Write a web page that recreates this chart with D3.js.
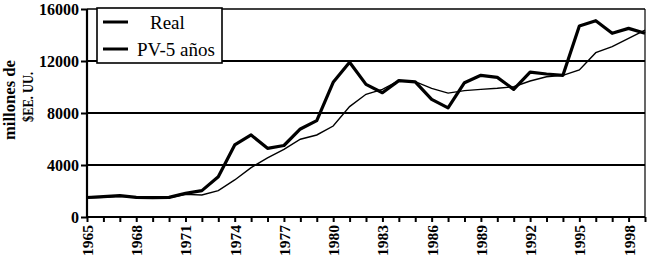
<!DOCTYPE html>
<html>
<head>
<meta charset="utf-8">
<script src="https://cdn.jsdelivr.net/npm/d3@7"></script>
<style>
  body { margin: 0; background: #fff; }
  text { font-family: "Liberation Serif", "Times New Roman", serif; fill: #000; }
</style>
</head>
<body>
<svg id="chart" width="650" height="262"></svg>
<script>
// years on the x axis
const years = d3.range(1965, 2000);

// Real series (millones de $EE. UU.)
const real = [1500, 1560, 1640, 1510, 1490, 1510, 1820, 2030, 3100, 5540,
  6310, 5280, 5500, 6770, 7410, 10360, 11900, 10200, 9560, 10490,
  10390, 9050, 8390, 10330, 10900, 10740, 9820, 11150, 11000, 10900,
  14690, 15100, 14130, 14510, 14130];

// PV-5 años series
const pv5 = [1450, 1520, 1600, 1520, 1480, 1480, 1740, 1690, 2030, 2850,
  3800, 4550, 5200, 5980, 6310, 7000, 8490, 9440, 9820, 10490,
  10410, 9900, 9530, 9720, 9820, 9900, 10020, 10460, 10790, 10900,
  11310, 12640, 13100, 13740, 14380];

const yTicks = [0, 4000, 8000, 12000, 16000];
const xLabels = [1965, 1968, 1971, 1974, 1977, 1980, 1983, 1986, 1989, 1992, 1995, 1998];

const svg = d3.select("svg#chart");
const mLeft = 87, mRight = 645, mTop = 9, mBottom = 217;

const x = d3.scaleLinear().domain([1965, 1999]).range([mLeft, mRight]);
const y = d3.scaleLinear().domain([0, 16000]).range([mBottom, mTop]);

// horizontal grid lines
svg.append("g").selectAll("line.grid")
  .data(yTicks.filter(d => d > 0))
  .enter().append("line")
  .attr("class", "grid")
  .attr("x1", mLeft).attr("x2", mRight)
  .attr("y1", d => y(d)).attr("y2", d => y(d))
  .attr("stroke", "#000")
  .attr("stroke-width", d => d === 16000 ? 1.7 : 2.2);

// right border
svg.append("line")
  .attr("x1", mRight).attr("x2", mRight)
  .attr("y1", mTop).attr("y2", mBottom)
  .attr("stroke", "#000").attr("stroke-width", 1.2);

// y axis
const yAxis = d3.axisLeft(y).tickValues(yTicks).tickSize(6).tickPadding(2).tickFormat(d3.format("d"));
const gy = svg.append("g").attr("transform", "translate(" + mLeft + ",0)").call(yAxis);
gy.select(".domain").remove();
gy.selectAll("line").attr("stroke-width", 2);
gy.selectAll("text")
  .attr("font-family", "Liberation Serif")
  .attr("font-size", 16)
  .attr("font-weight", "bold")
  .attr("dy", "0.35em");

// x axis
const xAxis = d3.axisBottom(x).tickValues(years).tickSize(5)
  .tickFormat(d => xLabels.includes(d) ? String(d) : "");
const gx = svg.append("g").attr("transform", "translate(0," + mBottom + ")").call(xAxis);
gx.select(".domain").remove();
gx.selectAll("line").attr("stroke-width", 2);
gx.selectAll("text")
  .attr("font-family", "Liberation Serif")
  .attr("font-size", 15.5)
  .attr("font-weight", "bold")
  .attr("transform", "rotate(-90)")
  .attr("text-anchor", "end")
  .attr("x", -8)
  .attr("y", 0)
  .attr("dy", "0.35em");

// axis lines
svg.append("line")
  .attr("x1", mLeft).attr("x2", mLeft).attr("y1", mTop).attr("y2", mBottom + 1)
  .attr("stroke", "#000").attr("stroke-width", 2.2);
svg.append("line")
  .attr("x1", mLeft - 1).attr("x2", mRight).attr("y1", mBottom).attr("y2", mBottom)
  .attr("stroke", "#000").attr("stroke-width", 2.2);

// y axis title (two rotated lines)
svg.append("text")
  .attr("transform", "translate(15,100) rotate(-90)")
  .attr("text-anchor", "middle")
  .attr("font-size", 16)
  .attr("font-weight", "bold")
  .attr("textLength", 80)
  .attr("lengthAdjust", "spacingAndGlyphs")
  .text("millones de");
svg.append("text")
  .attr("transform", "translate(33,97) rotate(-90)")
  .attr("text-anchor", "middle")
  .attr("font-size", 14)
  .attr("font-weight", "bold")
  .attr("textLength", 50)
  .attr("lengthAdjust", "spacingAndGlyphs")
  .text("$EE. UU.");

// lines
const line = d3.line().x((d, i) => x(years[i])).y(d => y(d));

svg.append("path")
  .datum(pv5)
  .attr("d", line)
  .attr("fill", "none")
  .attr("stroke", "#000")
  .attr("stroke-width", 1.4);

svg.append("path")
  .datum(real)
  .attr("d", line)
  .attr("fill", "none")
  .attr("stroke", "#000")
  .attr("stroke-width", 3.2)
  .attr("stroke-linejoin", "round");

// legend
const legend = svg.append("g");
legend.append("rect")
  .attr("x", 97).attr("y", 8).attr("width", 125).attr("height", 55)
  .attr("fill", "#fff").attr("stroke", "#000").attr("stroke-width", 1.6);

const legendItems = [
  { name: "Real", y: 22, tx: 150 },
  { name: "PV-5 años", y: 49, tx: 137 }
];
legendItems.forEach(function(d) {
  legend.append("line")
    .attr("x1", 103).attr("x2", 128).attr("y1", d.y).attr("y2", d.y)
    .attr("stroke", "#000").attr("stroke-width", 3);
  legend.append("text")
    .attr("x", d.tx).attr("y", d.y + 7)
    .attr("font-size", 19)
    .text(d.name);
});
</script>
</body>
</html>
